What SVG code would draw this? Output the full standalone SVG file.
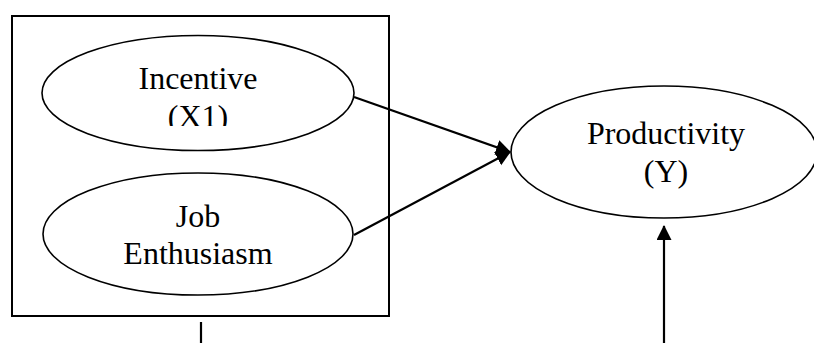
<svg xmlns="http://www.w3.org/2000/svg" width="814" height="343" viewBox="0 0 814 343">
  <style>
    .node { fill: #fff; stroke: #000; stroke-width: 1.6; }
    .frame { fill: none; stroke: #000; stroke-width: 2; }
    .lbl { font-family: "Liberation Serif", "Times New Roman", serif; font-size: 32px; fill: #000; text-anchor: middle; }
    .conn { stroke: #000; stroke-width: 2.2; fill: none; }
  </style>
  <defs>
    <marker id="arrow" markerUnits="userSpaceOnUse" markerWidth="16" markerHeight="16" refX="14" refY="7.5" orient="auto">
      <path d="M0,0 L15,7.5 L0,15 z" fill="#000"/>
    </marker>
    <clipPath id="clipX1">
      <rect x="0" y="0" width="814" height="126"/>
    </clipPath>
  </defs>
  <rect id="frame" class="frame" x="12" y="16" width="377" height="300"/>
  <g id="incentive">
    <ellipse class="node" cx="198" cy="93" rx="156" ry="57.5"/>
    <text class="lbl" x="198" y="89">Incentive</text>
    <text class="lbl" x="198" y="127" clip-path="url(#clipX1)">(X1)</text>
  </g>
  <g id="job">
    <ellipse class="node" cx="198" cy="234" rx="155" ry="61"/>
    <text class="lbl" x="198" y="227">Job</text>
    <text class="lbl" x="198" y="264">Enthusiasm</text>
  </g>
  <g id="productivity">
    <ellipse class="node" cx="664" cy="152" rx="153" ry="66"/>
    <text class="lbl" x="666" y="144">Productivity</text>
    <text class="lbl" x="666" y="182">(Y)</text>
  </g>
  <g id="connectors">
    <line class="conn" x1="354" y1="97" x2="510" y2="152" marker-end="url(#arrow)"/>
    <line class="conn" x1="354" y1="235" x2="510" y2="152" marker-end="url(#arrow)"/>
    <line class="conn" x1="664" y1="343" x2="664" y2="226" marker-end="url(#arrow)"/>
    <line class="conn" x1="201" y1="322" x2="201" y2="343"/>
  </g>
</svg>
